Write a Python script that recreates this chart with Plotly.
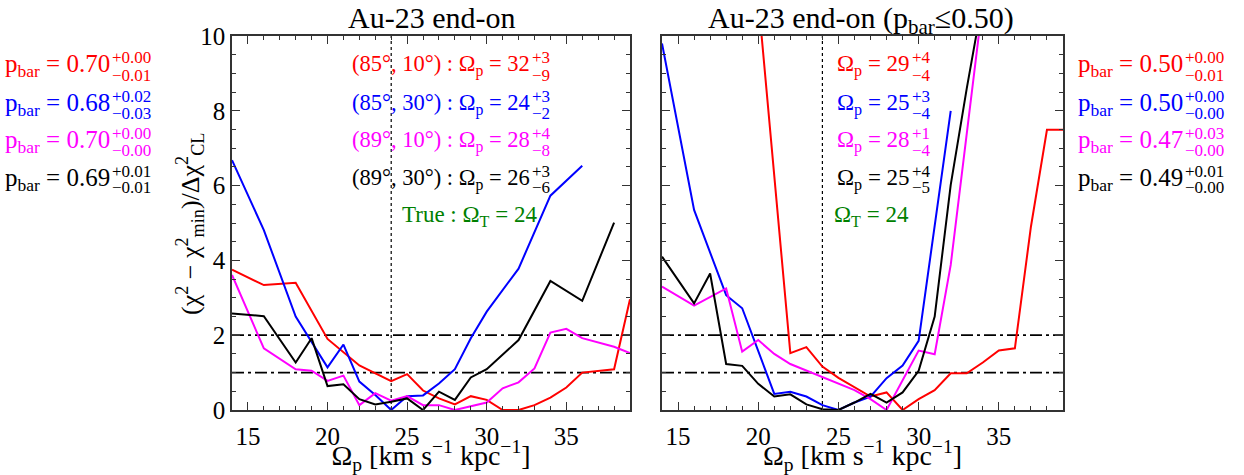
import plotly.graph_objects as go

W, H = 1244, 475

# ---------------- data ----------------
left_red_x = [14, 16, 18, 20, 22, 24, 25, 26, 27, 28, 29, 30, 31, 32, 33, 34, 35, 36, 38, 39]
left_red_y = [3.75, 3.34, 3.40, 1.90, 1.19, 0.77, 0.96, 0.52, 0.31, 0.15, 0.37, 0.27, 0.0, 0.0, 0.13, 0.33, 0.60, 1.00, 1.09, 2.96]

left_blue_x = [14, 16, 18, 20, 21, 22, 23, 24, 25, 26, 27, 28, 29, 30, 32, 34, 36]
left_blue_y = [6.68, 4.81, 2.50, 1.14, 1.75, 0.76, 0.40, 0.0, 0.37, 0.39, 0.71, 1.09, 1.92, 2.63, 3.78, 5.73, 6.53]

left_mag_x = [14, 16, 18, 19, 20, 21, 22, 23, 24, 25, 26, 27, 28, 29, 30, 31, 32, 33, 34, 35, 36, 38, 39]
left_mag_y = [3.61, 1.65, 1.09, 1.05, 0.78, 0.92, 0.13, 0.45, 0.25, 0.37, 0.13, 0.13, 0.0, 0.11, 0.20, 0.58, 0.74, 1.11, 2.07, 2.17, 1.92, 1.69, 1.52]

left_blk_x = [14, 16, 18, 19, 20, 21, 22, 23, 24, 25, 26, 27, 28, 29, 30, 32, 34, 36, 38]
left_blk_y = [2.58, 2.51, 1.27, 1.92, 0.64, 0.69, 0.29, 0.15, 0.22, 0.31, 0.0, 0.49, 0.27, 0.87, 1.09, 1.87, 3.45, 2.92, 5.01]

right_red_x = [20, 22, 23, 24, 25, 26, 27, 28, 29, 30, 31, 32, 33, 34, 35, 36, 37, 38, 39]
right_red_y = [11.0, 1.52, 1.68, 1.16, 0.86, 0.60, 0.36, 0.47, 0.0, 0.29, 0.53, 0.98, 0.98, 1.27, 1.59, 1.65, 4.90, 7.49, 7.49]

right_blue_x = [14, 16, 18, 19, 21, 22, 23, 24, 25, 26, 27, 28, 29, 30, 32]
right_blue_y = [9.8, 5.35, 3.07, 2.72, 0.43, 0.49, 0.36, 0.13, 0.0, 0.20, 0.36, 0.85, 1.19, 1.85, 8.0]

right_mag_x = [14, 16, 18, 19, 20, 21, 22, 23, 24, 25, 26, 27, 28, 30, 31, 32, 34]
right_mag_y = [3.30, 2.79, 3.25, 1.56, 1.87, 1.50, 1.23, 1.05, 0.89, 0.71, 0.53, 0.29, 0.0, 1.59, 1.49, 3.88, 10.9]

right_blk_x = [14, 16, 17, 18, 19, 20, 21, 22, 23, 24, 25, 26, 27, 28, 29, 30, 31, 32, 33, 34]
right_blk_y = [4.10, 2.85, 3.65, 1.23, 1.18, 0.70, 0.36, 0.42, 0.15, 0.02, 0.0, 0.20, 0.43, 0.20, 0.47, 1.05, 2.50, 6.02, 8.60, 11.0]

colors = ["#ff0000", "#0000ff", "#ff00ff", "#000000"]
green = "#008000"

left_labels = ["(85°, 10°) : Ω<sub>p</sub> = 32", "(85°, 30°) : Ω<sub>p</sub> = 24",
               "(89°, 10°) : Ω<sub>p</sub> = 28", "(89°, 30°) : Ω<sub>p</sub> = 26"]
left_sup = ["+3", "+3", "+4", "+3"]
left_sub = ["−9", "−2", "−8", "−6"]

right_labels = ["Ω<sub>p</sub> = 29", "Ω<sub>p</sub> = 25", "Ω<sub>p</sub> = 28", "Ω<sub>p</sub> = 25"]
right_sup = ["+4", "+3", "+1", "+4"]
right_sub = ["−4", "−4", "−4", "−5"]

pbar_left = ["0.70", "0.68", "0.70", "0.69"]
pbar_left_sup = ["+0.00", "+0.02", "+0.00", "+0.01"]
pbar_left_sub = ["−0.01", "−0.03", "−0.00", "−0.01"]

pbar_right = ["0.50", "0.50", "0.47", "0.49"]
pbar_right_sup = ["+0.00", "+0.00", "+0.03", "+0.01"]
pbar_right_sub = ["−0.01", "−0.00", "−0.00", "−0.00"]

x_title = "Ω<sub>p</sub> [km s<sup>−1</sup> kpc<sup>−1</sup>]"

true_omega = 24
x_range = [14, 39]
y_range = [0, 10]

FONT = "Liberation Serif"

# --------------- figure ---------------
fig = go.Figure()

left_series = [(left_red_x, left_red_y), (left_blue_x, left_blue_y), (left_mag_x, left_mag_y), (left_blk_x, left_blk_y)]
right_series = [(right_red_x, right_red_y), (right_blue_x, right_blue_y), (right_mag_x, right_mag_y), (right_blk_x, right_blk_y)]

for (xa, ya), series in ((("x", "y"), left_series), (("x2", "y2"), right_series)):
    fig.add_trace(go.Scatter(x=[true_omega, true_omega], y=y_range, mode="lines", xaxis=xa, yaxis=ya,
                             line=dict(color="black", width=1.2, dash="dot"), showlegend=False, hoverinfo="skip"))
    for lvl in (1, 2):
        fig.add_trace(go.Scatter(x=x_range, y=[lvl, lvl], mode="lines", xaxis=xa, yaxis=ya,
                                 line=dict(color="black", width=1.7, dash="12px,4px,3px,4px"),
                                 showlegend=False, hoverinfo="skip"))
    for (sx, sy), c in zip(series, colors):
        fig.add_trace(go.Scatter(x=sx, y=sy, mode="lines", xaxis=xa, yaxis=ya,
                                 line=dict(color=c, width=2), showlegend=False))

def px(x):
    return x / W

def py(y):
    return 1 - y / H

axis_common = dict(range=x_range, showline=True, linecolor="#333", linewidth=1.5, mirror="ticks",
                   ticks="inside", ticklen=8, tickwidth=1.2, tickcolor="#333", dtick=5, tick0=0,
                   showgrid=False, zeroline=False, ticklabelstandoff=3, automargin=False,
                   minor=dict(ticks="inside", ticklen=4, tickwidth=1, tickcolor="#333", dtick=1, showgrid=False),
                   tickfont=dict(family=FONT, size=25, color="black"),
                   title=dict(text=x_title, font=dict(family=FONT, size=28, color="black"), standoff=4))
yaxis_common = dict(range=y_range, showline=True, linecolor="#333", linewidth=1.5, mirror="ticks",
                    ticks="inside", ticklen=8, tickwidth=1.2, tickcolor="#333", dtick=2, tick0=0,
                    showgrid=False, zeroline=False, automargin=False,
                    minor=dict(ticks="inside", ticklen=4, tickwidth=1, tickcolor="#333", dtick=0.5, showgrid=False),
                    tickfont=dict(family=FONT, size=25, color="black"))

L0, L1 = px(232), px(630)
R0, R1 = px(662), px(1063)
B, T = py(410), py(36)

fig.update_layout(
    width=W, height=H, margin=dict(l=0, r=0, t=0, b=0),
    paper_bgcolor="white", plot_bgcolor="white", showlegend=False,
    xaxis=dict(domain=[L0, L1], anchor="y", **axis_common),
    yaxis=dict(domain=[B, T], anchor="x", **yaxis_common),
    xaxis2=dict(domain=[R0, R1], anchor="y2", **axis_common),
    yaxis2=dict(domain=[B, T], anchor="x2", showticklabels=False, **yaxis_common),
    font=dict(family=FONT, color="black"),
)

ann = []

def text(x, y, s, size, color="black", xanchor="center", yanchor="middle", angle=0):
    ann.append(dict(x=px(x), y=py(y), xref="paper", yref="paper", text=s, showarrow=False,
                    font=dict(family=FONT, size=size, color=color), xanchor=xanchor, yanchor=yanchor,
                    textangle=angle, borderpad=0))

# titles
text(431, 0, "Au-23 end-on", 30, yanchor="top")
text(861, 0, "Au-23 end-on (p<sub>bar</sub>≤0.50)", 30, yanchor="top")

# y axis title
text(190, 224, "(χ<sup>2</sup> − χ<sup>2</sup><sub>min</sub>)/Δχ<sup>2</sup><sub>CL</sub>", 26, angle=-90)

rows = [66, 104, 141.5, 179]

# left panel labels
for i in range(4):
    text(531, rows[i], left_labels[i], 22.5, colors[i], xanchor="right")
    text(531, rows[i] - 8, left_sup[i], 17, colors[i], xanchor="left")
    text(531, rows[i] + 9, left_sub[i], 17, colors[i], xanchor="left")
text(538, 216, "True : Ω<sub>T</sub> = 24", 23, green, xanchor="right")

# right panel labels
for i in range(4):
    text(911, rows[i], right_labels[i], 23, colors[i], xanchor="right")
    text(911, rows[i] - 8, right_sup[i], 17, colors[i], xanchor="left")
    text(911, rows[i] + 9, right_sub[i], 17, colors[i], xanchor="left")
text(833, 216, "Ω<sub>T</sub> = 24", 23, green, xanchor="left")

# p_bar labels outside
for i in range(4):
    text(111, rows[i], "p<sub>bar</sub> = " + pbar_left[i], 25, colors[i], xanchor="right")
    text(111, rows[i] - 8, pbar_left_sup[i], 17, colors[i], xanchor="left")
    text(111, rows[i] + 9, pbar_left_sub[i], 17, colors[i], xanchor="left")
    text(1184, rows[i], "p<sub>bar</sub> = " + pbar_right[i], 25, colors[i], xanchor="right")
    text(1184, rows[i] - 8, pbar_right_sup[i], 17, colors[i], xanchor="left")
    text(1184, rows[i] + 9, pbar_right_sub[i], 17, colors[i], xanchor="left")

fig.update_layout(annotations=ann)
fig.write_html("out.html")
